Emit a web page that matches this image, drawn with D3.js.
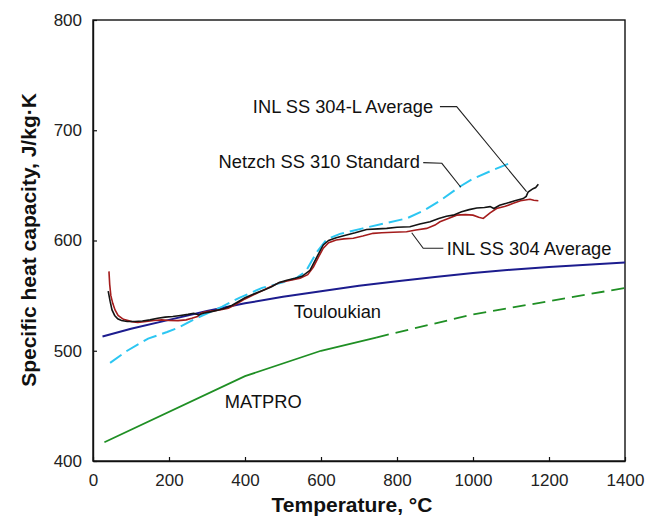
<!DOCTYPE html>
<html>
<head>
<meta charset="utf-8">
<script src="https://cdn.jsdelivr.net/npm/d3@7"></script>
<style>
  html, body { margin: 0; padding: 0; background: #fff; }
  svg { display: block; font-family: "Liberation Sans", Arial, Helvetica, sans-serif; }
</style>
</head>
<body>
<svg id="chart" width="666" height="516"></svg>
<script>
// Specific heat capacity of stainless steels vs temperature

// INL SS 304-L average: [temperature °C, cp J/kg·K]
const inl304L = [
  [40,554],[45,545],[50,537],[57,532],[65,529],[75,527.5],[90,526.5],[110,526.5],
  [130,527],[150,528],[170,529.5],[190,530.5],[210,531],[230,532],[250,533],[265,534],
  [278,532.5],[290,534],[312,535.5],[330,537],[347,538.5],[365,541],[382,544.5],[400,548],
  [426,552],[450,555],[470,558],[490,562],[510,564],[532,565.7],[550,567.5],[571,573],
  [589,585],[606,596],[620,600],[640,602.5],[667,605],[690,607],[720,610],[750,610.5],
  [773,611],[800,612],[834,612.5],[860,615],[887,617],[910,620],[930,622],[948,623],
  [970,626],[990,628],[1010,629.5],[1030,630],[1045,630.7],[1055,629],[1070,632],
  [1088,633.7],[1110,636],[1132,638],[1140,640],[1145,644],[1158,647],[1165,648],[1172,651]
];

// INL SS 304 average
const inl304 = [
  [42,572],[44,560],[47,550],[52,543],[58,537],[66,532],[80,528.5],[102,526.4],
  [118,525.6],[140,526.5],[160,527.5],[181,528],[200,527.5],[224,527.3],[245,528],
  [260,529.4],[275,531],[286,534.5],[300,535.5],[321,536.4],[340,537.5],[356,538.5],
  [375,542],[400,547],[430,552],[460,557],[492,562],[520,564],[545,565.7],[565,569],
  [580,576],[595,586],[606,593],[620,598],[640,600.5],[660,601.5],[685,602],[710,604],
  [737,606.5],[760,607],[790,607.5],[825,608],[850,609.5],[878,611],[900,614],[913,617],
  [935,620],[957,623],[980,623.5],[1000,623],[1015,621],[1027,620],[1045,625],[1062,629],
  [1085,631],[1106,633.7],[1125,636],[1150,637.4],[1160,636.5],[1172,636]
];

// Netzch SS 310 standard
const netzch310 = [
  [45,489],[90,500],[145,511],[195,517],[225,521],[275,530],[340,540],[385,548],
  [445,557],[500,562],[535,566],[560,572],[590,590],[615,601],[650,606],[710,611],
  [760,615],[825,620],[870,627],[913,636],[966,649],[1000,656],[1053,664],[1103,671]
];

// Touloukian
const touloukian = [
  [25,513],[100,520],[200,528],[300,536],[400,543],[500,549],[600,554],[700,559],
  [800,563],[900,567],[1000,570.5],[1100,573.5],[1200,576],[1300,578],[1400,580]
];

// MATPRO: measured range and extrapolation
const matproSolid = [[30,417],[400,477],[600,500],[745,512]];
const matproExtrap = [[745,512],[1000,533],[1400,557]];

// Axis ticks
const xTicks = [0,200,400,600,800,1000,1200,1400];
const yTicks = [400,500,600,700,800];

const svg = d3.select("#chart");
const margin = { left: 93, top: 20, right: 41, bottom: 55 };
const W = 666, H = 516;

const x = d3.scaleLinear().domain([0,1400]).range([margin.left, W - margin.right]);
const y = d3.scaleLinear().domain([400,800]).range([H - margin.bottom, margin.top]);

const line = d3.line().x(d => x(d[0])).y(d => y(d[1]));

// Frame
svg.append("rect")
  .attr("x", x(0)).attr("y", y(800))
  .attr("width", x(1400) - x(0)).attr("height", y(400) - y(800))
  .attr("fill", "none").attr("stroke", "#111").attr("stroke-width", 1.4);

// Axes with inward ticks
const xAxis = svg.append("g")
  .attr("transform", `translate(0,${y(400)})`)
  .call(d3.axisBottom(x).tickValues(xTicks).tickSizeInner(-4).tickSizeOuter(0).tickPadding(13)
    .tickFormat(d3.format("d")));
const yAxis = svg.append("g")
  .attr("transform", `translate(${x(0)},0)`)
  .call(d3.axisLeft(y).tickValues(yTicks).tickSizeInner(-4).tickSizeOuter(0).tickPadding(11)
    .tickFormat(d3.format("d")));
[xAxis, yAxis].forEach(g => {
  g.select(".domain").attr("stroke", "#111").attr("stroke-width", 1.4);
  g.selectAll(".tick line").attr("stroke", "#111").attr("stroke-width", 1.2);
  g.selectAll(".tick text").attr("fill", "#222").style("font-size", "17px")
    .style("font-family", "'Liberation Sans', Arial, sans-serif");
});

// Axis titles
svg.append("text")
  .attr("x", 352).attr("y", 512)
  .attr("text-anchor", "middle")
  .style("font-size", "21px").style("font-weight", "bold").attr("fill", "#111")
  .text("Temperature, °C");
svg.append("text")
  .attr("transform", `translate(36,240) rotate(-90)`)
  .attr("text-anchor", "middle")
  .style("font-size", "21px").style("font-weight", "bold").attr("fill", "#111")
  .text("Specific heat capacity, J/kg·K");

// Data series
svg.append("path").datum(touloukian).attr("d", line)
  .attr("fill", "none").attr("stroke", "#1c1c8e").attr("stroke-width", 2);
svg.append("path").datum(matproSolid).attr("d", line)
  .attr("fill", "none").attr("stroke", "#1f8f24").attr("stroke-width", 1.8);
svg.append("path").datum(matproExtrap).attr("d", line)
  .attr("fill", "none").attr("stroke", "#1f8f24").attr("stroke-width", 1.8)
  .attr("stroke-dasharray", "13,7");
svg.append("path").datum(netzch310).attr("d", line)
  .attr("fill", "none").attr("stroke", "#2cc6f2").attr("stroke-width", 2)
  .attr("stroke-dasharray", "14,6");
svg.append("path").datum(inl304).attr("d", line)
  .attr("fill", "none").attr("stroke", "#a41c1c").attr("stroke-width", 1.6);
svg.append("path").datum(inl304L).attr("d", line)
  .attr("fill", "none").attr("stroke", "#141414").attr("stroke-width", 1.6);

// Labels with leader lines (anchored in data coordinates)
const labelStyle = sel => sel.style("font-size", "18.3px").attr("fill", "#111");
const leader = pts => svg.append("path").datum(pts).attr("d", line)
  .attr("fill", "none").attr("stroke", "#222").attr("stroke-width", 1.1);

svg.append("text").attr("x", x(895)).attr("y", y(721.4)).attr("dy", "0.35em")
  .attr("text-anchor", "end").call(labelStyle).text("INL SS 304-L Average");
leader([[913,721.4],[957,721.4],[1141,644.3]]);

svg.append("text").attr("x", x(860)).attr("y", y(672)).attr("dy", "0.35em")
  .attr("text-anchor", "end").call(labelStyle).text("Netzch SS 310 Standard");
leader([[869,670.6],[918,670],[968,648.3]]);

svg.append("text").attr("x", x(931)).attr("y", y(593)).attr("dy", "0.35em")
  .attr("text-anchor", "start").call(labelStyle).text("INL SS 304 Average");
leader([[922,593],[869,593],[838.7,607]]);

svg.append("text").attr("x", x(528)).attr("y", y(535.4)).attr("dy", "0.35em")
  .attr("text-anchor", "start").call(labelStyle).text("Touloukian");

svg.append("text").attr("x", x(347)).attr("y", y(453.8)).attr("dy", "0.35em")
  .attr("text-anchor", "start").call(labelStyle).text("MATPRO");
</script>
</body>
</html>
